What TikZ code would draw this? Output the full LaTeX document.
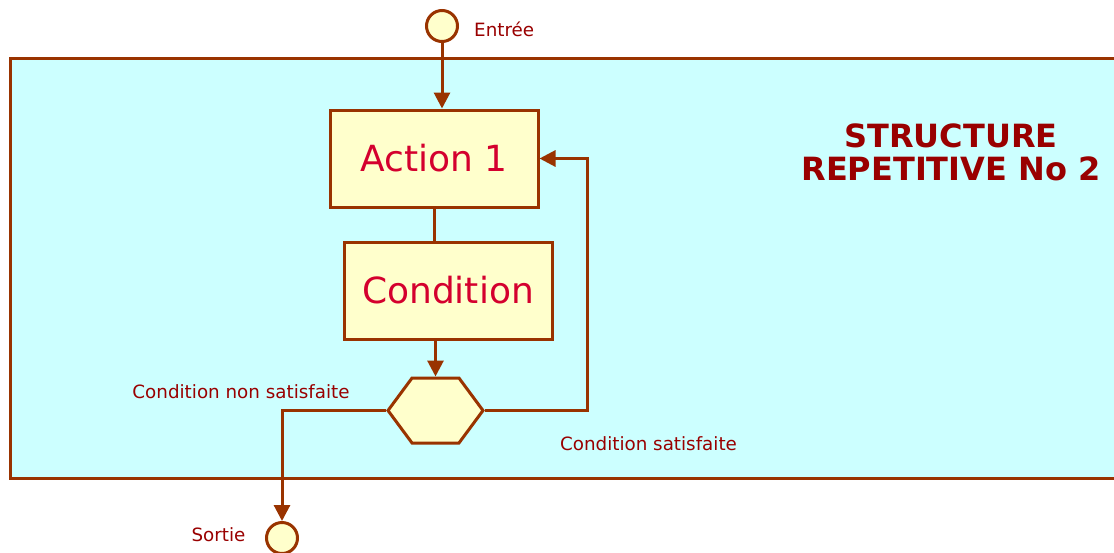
\documentclass[tikz,border=0pt]{standalone}
\usepackage{fontspec}
\setmainfont{DejaVu Sans}
\usetikzlibrary{shapes.symbols,arrows.meta}
\definecolor{brun}{HTML}{993300}
\definecolor{cyanclair}{HTML}{CCFFFF}
\definecolor{jaune}{HTML}{FFFFCC}
\definecolor{rouge}{HTML}{990000}
\definecolor{carmin}{HTML}{D4002E}

\begin{document}
\begin{tikzpicture}[x=1pt,y=-1pt,
      >={Triangle[length=16pt,width=16pt]},
      every node/.append style={inner sep=0pt},
      lien/.style={draw=brun,line width=3pt},
      boite/.style={draw=brun,fill=jaune,line width=3pt,minimum width=208pt,minimum height=97pt,
        text=carmin,font=\fontsize{36}{40}\selectfont},
      terminal/.style={circle,draw=brun,fill=jaune,line width=3pt,minimum size=31pt},
      etiquette/.style={text=rouge,font=\fontsize{18.3}{22}\selectfont}]
    \useasboundingbox (0,0) rectangle (1114,552);
    % fond
    \draw[lien,fill=cyanclair] (10,58) rectangle (1140,478);
    \node (titre) [align=center,text=rouge,font=\fontsize{32}{33}\selectfont\bfseries] at (951,152) {STRUCTURE\\REPETITIVE No 2};
    % noeuds
    \node (entree) [terminal] at (442,26) {};
    \node (action) [boite] at (434,158.5) {Action 1};
    \node (condition) [boite] at (448,290.5) {Condition};
    \node (decision) [signal,signal to=west and east,signal pointer angle=107,draw=brun,fill=jaune,line width=3pt,
      minimum width=95pt,minimum height=65pt] at (435.5,410.5) {};
    \node (sortie) [terminal] at (282,538) {};
    % etiquettes
    \node (lentree) [etiquette,anchor=west] at (474,29) {Entrée};
    \node (lnon) [etiquette] at (241,392) {Condition non satisfaite};
    \node (loui) [etiquette] at (648.5,444) {Condition satisfaite};
    \node (lsortie) [etiquette] at (218.5,535) {Sortie};
    % liens
    \draw[lien,->] (entree) -- (action.north -| entree);
    \draw[lien] (action.south) -- (action.south |- condition.north);
    \draw[lien,->] (decision.north |- condition.south) -- (decision.north);
    \draw[lien,->] (decision.east) -- ++(103,0) |- (action.east);
    \draw[lien,->] (decision.west) -| (sortie);
\end{tikzpicture}
\end{document}
